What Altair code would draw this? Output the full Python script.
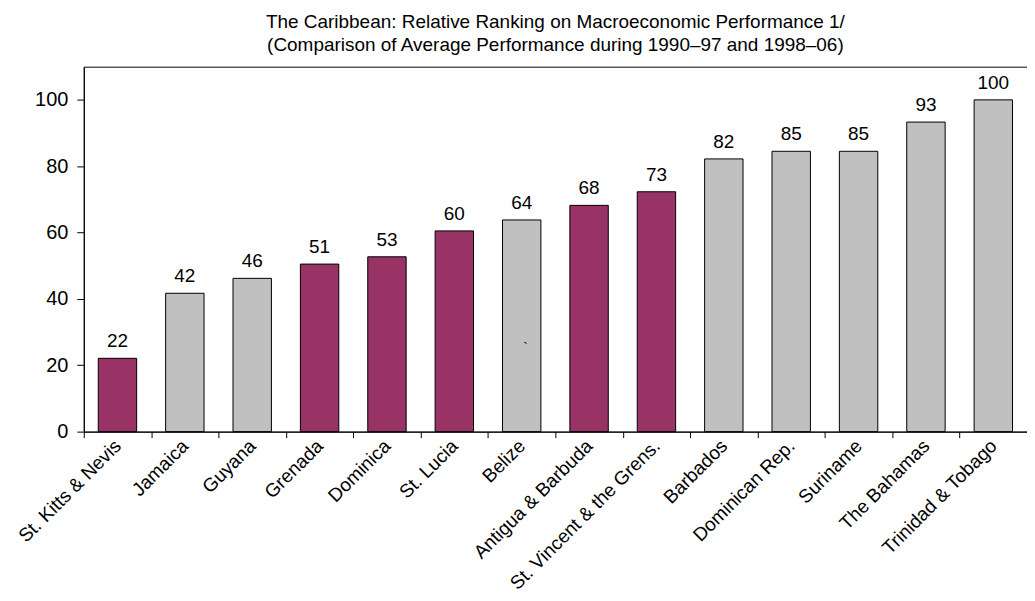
import altair as alt
import pandas as pd

countries = ["St. Kitts & Nevis", "Jamaica", "Guyana", "Grenada", "Dominica", "St. Lucia",
             "Belize", "Antigua & Barbuda", "St. Vincent & the Grens.", "Barbados",
             "Dominican Rep.", "Suriname", "The Bahamas", "Trinidad & Tobago"]
values = [22.1, 41.7, 46.2, 50.5, 52.7, 60.5, 63.8, 68.2, 72.3, 82.2, 84.5, 84.5, 93.3, 100.0]
labels = ["22", "42", "46", "51", "53", "60", "64", "68", "73", "82", "85", "85", "93", "100"]
groups = ["ECCU", "Other", "Other", "ECCU", "ECCU", "ECCU", "Other", "ECCU", "ECCU",
          "Other", "Other", "Other", "Other", "Other"]
y_ticks = [0, 20, 40, 60, 80, 100]
title_lines = ["The Caribbean: Relative Ranking on Macroeconomic Performance 1/",
               "(Comparison of Average Performance during 1990\u201397 and 1998\u201306)"]

df = pd.DataFrame({"country": countries, "value": values, "label": labels, "group": groups})
stray = pd.DataFrame({"country": ["Belize"], "value": [24.8], "label": ["`"]})

FONT = "Liberation Sans"

x_enc = alt.X("country:N", sort=countries, title=None,
              scale=alt.Scale(paddingInner=0, paddingOuter=0),
              axis=alt.Axis(labelAngle=-45, labelAlign="right", labelBaseline="middle",
                            labelFontSize=19, labelFont=FONT, labelColor="black",
                            labelLimit=400,
                            tickBand="extent", tickColor="black", tickSize=6,
                            domainColor="black", labelPadding=5))
y_enc = alt.Y("value:Q", title=None,
              scale=alt.Scale(domain=[0, 110], nice=False),
              axis=alt.Axis(values=y_ticks, grid=False, labelFontSize=20, labelFont=FONT,
                            labelColor="black", tickColor="black", tickSize=7,
                            domainColor="black", labelPadding=9))

bars = alt.Chart(df).mark_bar(width={"band": 0.57}, stroke="black", strokeWidth=1).encode(
    x=x_enc, y=y_enc,
    color=alt.Color("group:N", scale=alt.Scale(domain=["ECCU", "Other"],
                                               range=["#993366", "#C0C0C0"]), legend=None),
)
text = alt.Chart(df).mark_text(dy=-11, baseline="alphabetic", fontSize=19, font=FONT,
                               color="black").encode(
    x=alt.X("country:N", sort=countries), y="value:Q", text="label:N")
mark = alt.Chart(stray).mark_text(dx=4, baseline="middle", fontSize=14, font=FONT,
                                  color="black").encode(
    x=alt.X("country:N", sort=countries), y="value:Q", text="label:N")

chart = alt.layer(bars, text, mark).properties(
    width=946, height=366,
    autosize=alt.AutoSizeParams(type="none"),
    padding={"left": 76, "top": 58, "right": 0, "bottom": 161},
    title=alt.TitleParams(title_lines, fontSize=19, font=FONT, fontWeight="normal",
                          color="black", lineHeight=23, offset=12, anchor="middle"),
).configure_view(stroke="black", strokeWidth=1)

chart.save("out.html", embed_options={"renderer": "svg", "actions": False})
